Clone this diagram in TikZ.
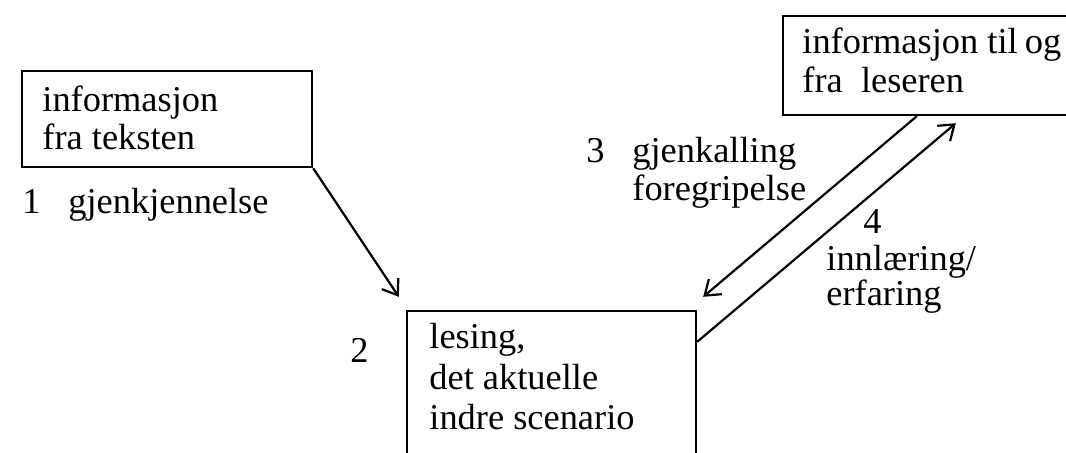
\documentclass[tikz,border=0pt]{standalone}
\usepackage{fontspec}
\setmainfont{Liberation Serif}
\usetikzlibrary{arrows.meta,calc}
\begin{document}
\begin{tikzpicture}[x=0.5pt,y=-0.5pt,
  box/.style={draw,line width=1.2pt,inner sep=0pt,rectangle},
  txt/.style={anchor=base west,inner sep=0pt,font=\fontsize{18.2}{20}\selectfont},
  arr/.style={line width=1.1pt,-{Straight Barb[length=7pt,width=10pt,line width=1.1pt]}}]
\useasboundingbox (0,0) rectangle (1066,452);
\clip (0,0) rectangle (1066,452);
% boxes
\node[box,minimum width=145pt,minimum height=48pt] (b1) at (167,119) {};
\node[box,minimum width=144.5pt,minimum height=84.5pt] (b2) at (551.5,395.5) {};
\node[box,minimum width=158.5pt,minimum height=49.5pt] (b3) at (941.5,65.5) {};
% box texts
\node[txt] (t1a) at (42,111) {informasjon};
\node[txt] (t1b) at (42,149) {fra teksten};
\node[txt] (t2a) at (429,348) {lesing,};
\node[txt] (t2b) at (429,389) {det aktuelle};
\node[txt] (t2c) at (429,429) {indre scenario};
\node[txt] (t3a) at (802,53) {informasjon til\kern-1pt\ og};
\node[txt] (t3b) at (802,92) {fra\ \ leseren};
% labels
\node[txt] (n1) at (22,213) {1};
\node[txt] (l1) at (68,213) {gjenkjennelse};
\node[txt] (n2) at (350,362) {2};
\node[txt] (n3) at (586,162) {3};
\node[txt] (l3a) at (632,162) {gjenkalling};
\node[txt] (l3b) at (632,200) {foregripelse};
\node[txt] (n4) at (863,233) {4};
\node[txt] (l4a) at (826,270) {innlæring/};
\node[txt] (l4b) at (826,305) {erfaring};
% connector ends
\coordinate (e1) at ($(b2.north west)+(-7,-13)$);
\coordinate (s3) at ($(b3.south west)+(135,0)$);
\coordinate (e3) at ($(b2.north east)+(6,-13)$);
\coordinate (s4) at ($(b2.north east)+(0,32)$);
\coordinate (e4) at ($(b3.south west)+(174,7)$);
\draw[arr] (b1.south east) -- (e1);
\draw[arr] (s3) -- (e3);
\draw[arr] (s4) -- (e4);
\end{tikzpicture}
\end{document}
